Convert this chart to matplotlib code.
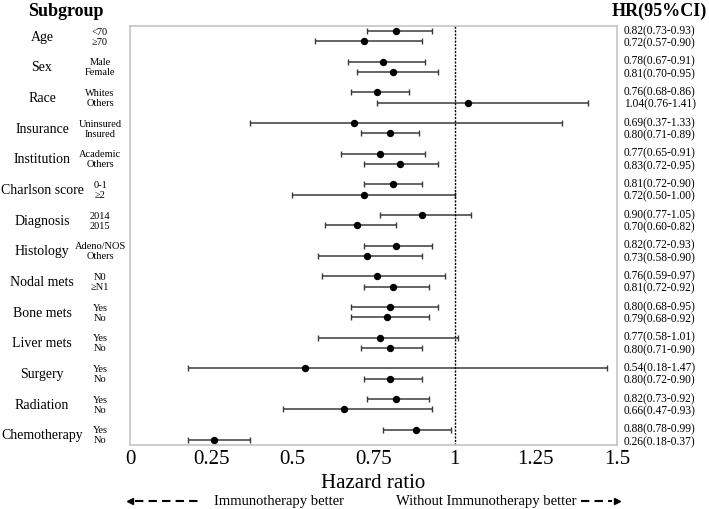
import matplotlib.pyplot as plt
from matplotlib import transforms

plt.rcParams['font.family'] = ['Liberation Serif', 'DejaVu Serif']

groups = ['Age', 'Sex', 'Race', 'Insurance', 'Institution', 'Charlson score',
          'Diagnosis', 'Histology', 'Nodal mets', 'Bone mets', 'Liver mets',
          'Surgery', 'Radiation', 'Chemotherapy']
subgroups = [['<70', '≥70'], ['Male', 'Female'], ['Whites', 'Others'],
             ['Uninsured', 'Insured'], ['Academic', 'Others'], ['0-1', '≥2'],
             ['2014', '2015'], ['Adeno/NOS', 'Others'], ['N0', '≥N1'],
             ['Yes', 'No'], ['Yes', 'No'], ['Yes', 'No'], ['Yes', 'No'],
             ['Yes', 'No']]
hr = [0.82, 0.72, 0.78, 0.81, 0.76, 1.04, 0.69, 0.80, 0.77, 0.83, 0.81, 0.72,
      0.90, 0.70, 0.82, 0.73, 0.76, 0.81, 0.80, 0.79, 0.77, 0.80, 0.54, 0.80,
      0.82, 0.66, 0.88, 0.26]
lo = [0.73, 0.57, 0.67, 0.70, 0.68, 0.76, 0.37, 0.71, 0.65, 0.72, 0.72, 0.50,
      0.77, 0.60, 0.72, 0.58, 0.59, 0.72, 0.68, 0.68, 0.58, 0.71, 0.18, 0.72,
      0.73, 0.47, 0.78, 0.18]
hi = [0.93, 0.90, 0.91, 0.95, 0.86, 1.41, 1.33, 0.89, 0.91, 0.95, 0.90, 1.00,
      1.05, 0.82, 0.93, 0.90, 0.97, 0.92, 0.95, 0.92, 1.01, 0.90, 1.47, 0.90,
      0.92, 0.93, 0.99, 0.37]

# row positions: pairs one unit apart, groups three units apart
ypos = []
for g in range(len(groups)):
    ypos += [g * 3, g * 3 + 1]

fig = plt.figure(figsize=(7.09, 5.10), dpi=100)
ax = fig.add_axes([0.1834, 0.1255, 0.6869, 0.8216])

xerr = [[h - l for h, l in zip(hr, lo)], [u - h for h, u in zip(hr, hi)]]
ax.errorbar(hr, ypos, xerr=xerr, fmt='o', color='black', ecolor='#3a3a3a',
            elinewidth=1.1, capsize=2, capthick=1, markersize=4.3)
ax.axvline(1, color='black', lw=1, ls=(0, (1.5, 1)))

ax.set_xlim(0, 1.5)
ax.set_ylim(ypos[-1] + 0.5, -0.5)
ax.set_xticks([0, 0.25, 0.5, 0.75, 1, 1.25, 1.5])
ax.set_xticklabels(['0', '0.25', '0.5', '0.75', '1', '1.25', '1.5'], fontsize=15)
ax.set_yticks([])
ax.tick_params(axis='x', length=0, pad=3)
for sp in ax.spines.values():
    sp.set_color('#c4c4cc')
    sp.set_linewidth(1.2)

ytr = ax.get_yaxis_transform()
for g, name in enumerate(groups):
    ax.text(-0.1807, g * 3 + 0.5, name, transform=ytr, ha='center', va='center',
            fontsize=10)
    for k, sub in enumerate(subgroups[g]):
        ax.text(-0.0616, g * 3 + k, sub, transform=ytr, ha='center',
                va='center', fontsize=7.5)

# HR text pairs sit a touch further apart than the points, as in the source
for i, (y, h, l, u) in enumerate(zip(ypos, hr, lo, hi)):
    off = -0.1 if i % 2 == 0 else 0.1
    ax.text(1.0144, y + off, '%.2f(%.2f-%.2f)' % (h, l, u), transform=ytr,
            ha='left', va='center', fontsize=8.3)

fig.text(66 / 709, 1 - 11 / 510, 'Subgroup', ha='center', va='center',
         fontsize=13, fontweight='bold')
fig.text(707 / 709, 1 - 11 / 510, 'HR(95%CI)', ha='right', va='center',
         fontsize=13, fontweight='bold')

ax.text(0.5, -0.0907, 'Hazard ratio', transform=ax.transAxes, ha='center',
        va='center', fontsize=15)

# direction arrows under the axis
atr = transforms.blended_transform_factory(ax.transData, ax.transAxes)
ya = -0.1336
ax.plot([0.015, 0.21], [ya, ya], color='black', lw=1.5, ls=(0, (4, 2.5)),
        transform=atr, clip_on=False)
ax.plot([0.0], [ya], marker='<', color='black', markersize=4, transform=atr,
        clip_on=False)
ax.text(0.26, ya, 'Immunotherapy better', transform=atr, ha='left',
        va='center', fontsize=10.5)
ax.plot([1.39, 1.485], [ya, ya], color='black', lw=1.5, ls=(0, (4, 2.5)),
        transform=atr, clip_on=False)
ax.plot([1.5], [ya], marker='>', color='black', markersize=4, transform=atr,
        clip_on=False)
ax.text(1.375, ya, 'Without Immunotherapy better', transform=atr, ha='right',
        va='center', fontsize=10.5)

fig.savefig('out.png', dpi=100)
